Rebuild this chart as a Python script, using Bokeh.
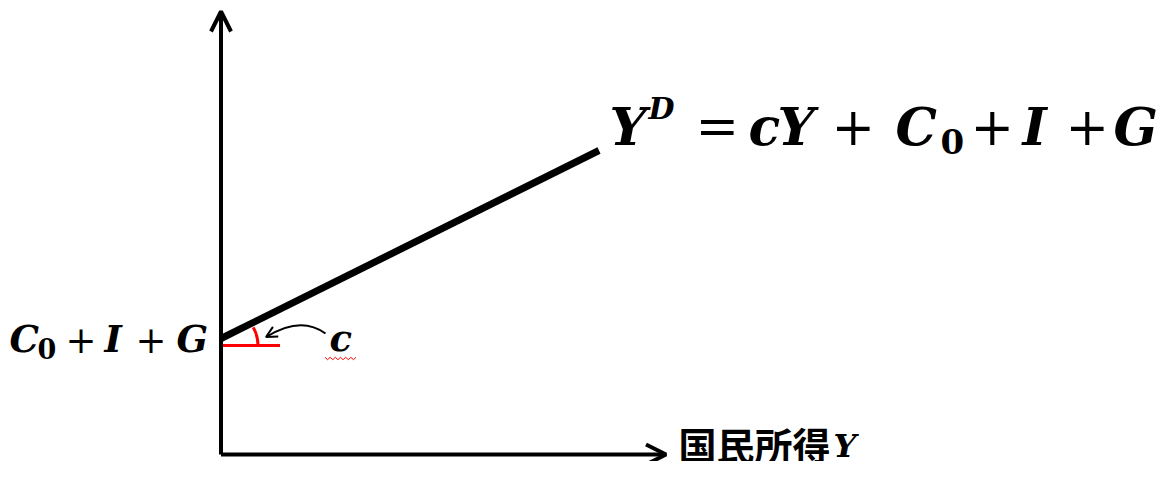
import numpy as np
from bokeh.plotting import figure
from bokeh.models import Range1d, Arrow, OpenHead, Label
from bokeh.embed import file_html
from bokeh.resources import INLINE

# ---- data (diagram units, origin at the axes' crossing) ----
income = [0, 378]          # national income Y
demand = [116, 304]        # Y^D = cY + C0 + I + G
intercept = 109            # C0 + I + G level (red reference line)
slope_angle = float(np.arctan2(demand[1] - demand[0], income[1] - income[0]))
x_axis_end = 445
y_axis_end = 443
x_label = "国民所得"

W, H = 1159, 461
OX, OY = 220.5, 454  # origin position in picture pixels

p = figure(width=W, height=H, output_backend="svg", toolbar_location=None,
           x_range=Range1d(-OX, W - OX), y_range=Range1d(OY - H, OY),
           min_border=0, outline_line_color=None)
p.axis.visible = False
p.grid.visible = False
p.background_fill_color = "white"
p.border_fill_color = "white"

# axes with open arrow heads
p.add_layout(Arrow(end=OpenHead(size=20, line_width=4, line_color="black"),
                   x_start=0, y_start=0, x_end=0, y_end=y_axis_end,
                   line_width=4, line_color="black"))
p.add_layout(Arrow(end=OpenHead(size=20, line_width=4, line_color="black"),
                   x_start=0, y_start=0, x_end=x_axis_end, y_end=0,
                   line_width=4, line_color="black"))

# demand line
p.line(income, demand, line_width=7, line_color="black")

# red slope marker
p.line([0, 59], [intercept, intercept], line_width=3, line_color="red")
p.arc(x=[0], y=[intercept], radius=37, start_angle=0, end_angle=slope_angle + 0.05,
      line_width=3, line_color="red")

# curved pointer arrow to "c"
p.quadratic(x0=[104.5], y0=[121], x1=[46], y1=[118], cx=[80], cy=[139],
            line_width=2, line_color="black")
p.add_layout(Arrow(end=OpenHead(size=11, line_width=2, line_color="black"),
                   x_start=54, y_start=122.5, x_end=45, y_end=117.5,
                   line_width=0, line_alpha=0))

# red wavy underline (spell-check mark)
wx = np.linspace(104, 135, 13)
wy = 96 + np.where(np.arange(13) % 2 == 0, 1.2, -1.2)
p.line(wx, wy, line_width=1, line_color="red")

BI = dict(text_font="DejaVu Serif", text_font_style="bold italic")
UP = dict(text_font="DejaVu Serif", text_font_style="normal")
B0 = dict(text_font="DejaVu Serif", text_font_style="bold")
JP = dict(text_font="Noto Sans CJK JP", text_font_style="bold")

def lab(px, py, txt, size, style):
    p.add_layout(Label(x=px - OX, y=OY - py, text=txt, text_baseline="middle",
                       text_color="black", text_font_size=f"{size}px", **style))

# equation label Y^D = cY + C0 + I + G  (cap centre y = 125.5)
EY = 125.5
lab(609, EY, "Y", 52, BI)
lab(648, 107.5, "D", 30, BI)
lab(695, EY, "=", 52, UP)
lab(748, EY, "c", 52, BI)
lab(777, EY, "Y", 52, BI)
lab(831, EY, "+", 52, UP)
lab(895, EY, "C", 52, BI)
lab(940, 141, "0", 34, B0)
lab(970, EY, "+", 52, UP)
lab(1022, EY, "I", 52, BI)
lab(1065, EY, "+", 52, UP)
lab(1113, EY, "G", 52, BI)

# intercept label C0 + I + G
LY = 338.5
lab(9, LY, "C", 37, BI)
lab(37, 347.5, "0", 27, B0)
lab(65, LY, "+", 37, UP)
lab(104, LY, "I", 37, BI)
lab(135, LY, "+", 37, UP)
lab(176, LY, "G", 37, BI)

# slope label c
lab(329, 337, "c", 37, BI)

# x axis label
lab(678, 443, x_label, 38, JP)
lab(833, 445.5, "Y", 32, BI)

open("out.html", "w").write(file_html(p, INLINE))
